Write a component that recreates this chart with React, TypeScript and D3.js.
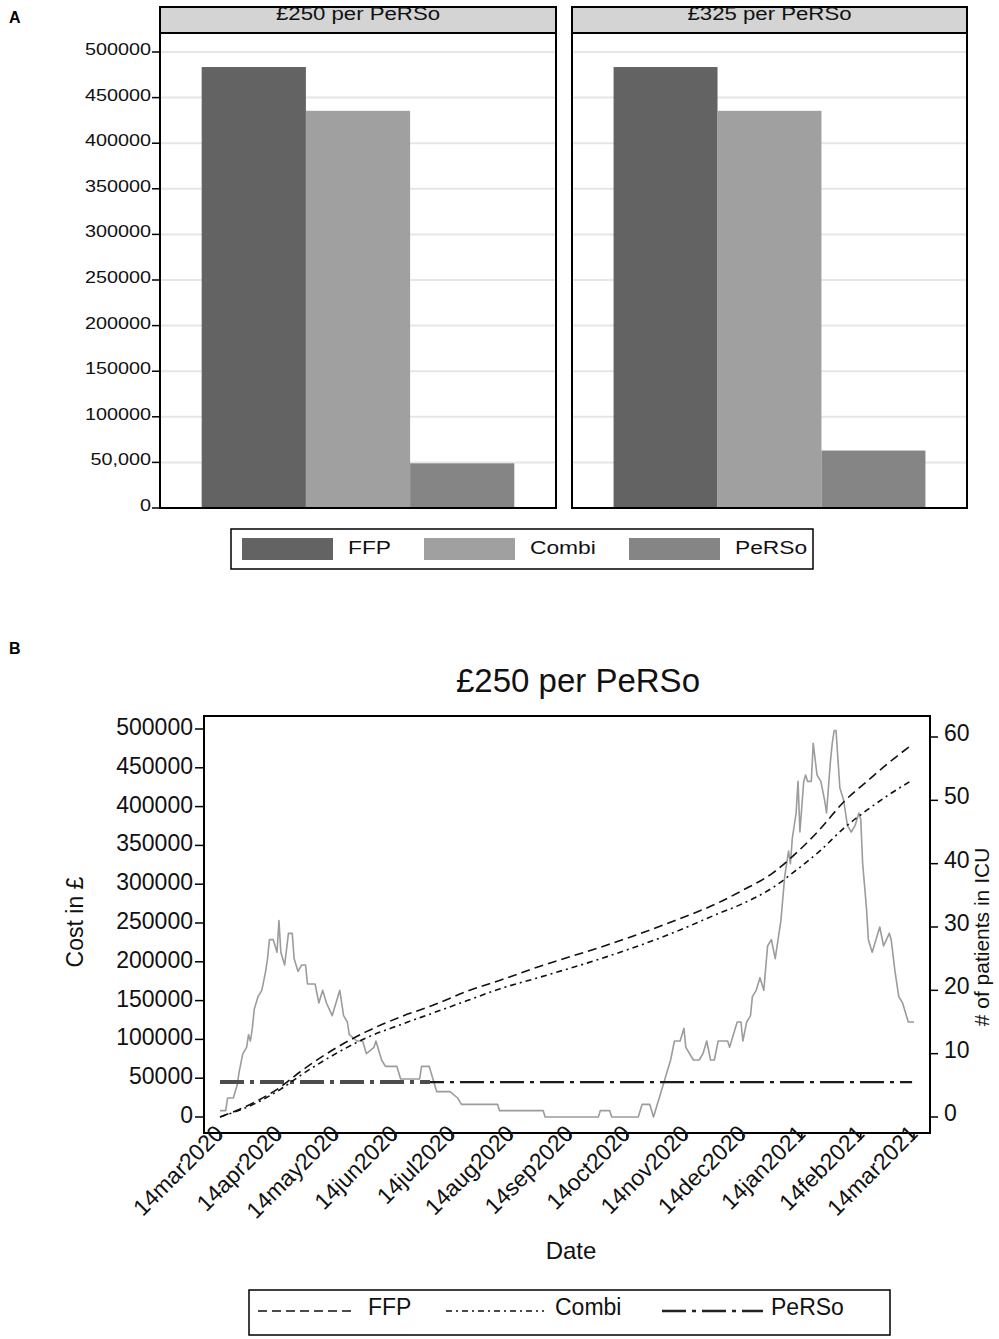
import React from 'react';
import * as d3 from 'd3';

// ---------- Panel A: total cost per method ----------
const methods = ['FFP', 'Combi', 'PeRSo'];
const methodFills = ['#636363', '#a0a0a0', '#858585'];
const panelTitles = ['£250 per PeRSo', '£325 per PeRSo'];
const totalCost250 = [483500, 435500, 49000];
const totalCost325 = [483500, 435500, 63000];
const costTicks = [0, 50000, 100000, 150000, 200000, 250000, 300000, 350000, 400000, 450000, 500000];
const barTickLabels = ['0', '50,000', '100000', '150000', '200000', '250000', '300000', '350000', '400000', '450000', '500000'];

// ---------- Panel B: cumulative cost over time + ICU patients ----------
const lineTitle = '£250 per PeRSo';
const dateTickLabels = [
  '14mar2020', '14apr2020', '14may2020', '14jun2020', '14jul2020', '14aug2020', '14sep2020',
  '14oct2020', '14nov2020', '14dec2020', '14jan2021', '14feb2021', '14mar2021',
];
const icuTicks = [0, 10, 20, 30, 40, 50, 60];
// days since 14mar2020
const costDays = [0, 19, 32, 42, 59, 77, 95, 112, 130, 147, 168, 204, 238, 262, 274, 291, 303, 316, 328, 340, 351, 364];
const ffpCost = [0, 20000, 39000, 58000, 86000, 110000, 129000, 144000, 162000, 176000, 194000, 222000, 252000, 276000, 291000, 315000, 340000, 372000, 406000, 432000, 455000, 480000];
const combiCost = [0, 18000, 36000, 53000, 79000, 102000, 119000, 134000, 150000, 165000, 180000, 207000, 237000, 262000, 274000, 296000, 318000, 344000, 372000, 395000, 414000, 434000];
const persoDays = [0, 364];
const persoCost = [45000, 45000];
const icuDays = [
  0, 3, 4, 7, 9, 10, 12, 14, 15, 16,
  17, 18, 20, 22, 24, 25, 26, 28, 29, 30,
  31, 32, 34, 36, 38, 39, 41, 43, 45, 46,
  50, 52, 54, 56, 59, 60, 63, 65, 67, 68,
  72, 75, 77, 81, 82, 85, 87, 93, 95, 105,
  106, 110, 112, 114, 121, 125, 127, 146, 147, 170,
  171, 199, 200, 205, 206, 220, 222, 224, 226, 228,
  230, 231, 234, 237, 239, 242, 244, 245, 249, 252,
  254, 256, 258, 260, 262, 267, 268, 270, 272, 274,
  275, 277, 279, 280, 282, 284, 286, 288, 290, 292,
  295, 297, 299, 300, 301, 303, 304, 305, 307, 308,
  309, 311, 312, 314, 316, 318, 319, 321, 322, 323,
  324, 326, 328, 329, 330, 332, 334, 336, 337, 338,
  340, 341, 343, 345, 347, 349, 352, 353, 355, 357,
  359, 362, 365,
];
const icuPatients = [
  1, 1, 3, 3, 5, 7, 10, 11, 13, 12,
  14, 17, 19, 20, 23, 25, 28, 28, 27, 26,
  31, 26, 24, 29, 29, 25, 23, 24, 24, 21,
  21, 18, 20, 18, 16, 17, 20, 16, 15, 13,
  12, 12, 10, 11, 12, 9, 8, 8, 6, 6,
  8, 8, 6, 4, 4, 3, 2, 2, 1, 1,
  0, 0, 1, 1, 0, 0, 2, 2, 2, 0,
  2, 3, 6, 9, 12, 12, 14, 11, 9, 9,
  10, 12, 9, 9, 12, 12, 11, 13, 15, 15,
  12, 15, 16, 19, 20, 22, 20, 27, 28, 25,
  31, 38, 42, 40, 44, 48, 53, 45, 53, 54,
  53, 53, 59, 54, 53, 50, 48, 56, 59, 61,
  61, 52, 50, 48, 46, 45, 46, 48, 47, 40,
  33, 28, 26, 28, 30, 27, 29, 28, 23, 19,
  18, 15, 15,
];

const FONT = "'Liberation Sans', Arial, Helvetica, sans-serif";

// panel A text in the reference is drawn wider than normal
function WideText({ x, y, size, anchor = 'start', children }: any) {
  return (
    <g transform={`translate(${x},${y}) scale(1.2,1)`}>
      <text fontSize={size} textAnchor={anchor} fontFamily={FONT} fill="#111">{children}</text>
    </g>
  );
}

function BarPanel({ x0, x1, title, values, showAxis }: any) {
  const yA = d3.scaleLinear().domain([0, 500000]).range([508, 52]);
  const xA = d3.scaleBand().domain(methods).range([x0, x1]).paddingInner(0).paddingOuter(0.4);
  const top = 33;
  return (
    <g>
      <rect x={x0} y={7} width={x1 - x0} height={top - 7} fill="#d4d4d4" stroke="#000" strokeWidth={2} />
      <WideText x={(x0 + x1) / 2} y={20} size={18.5} anchor="middle">{title}</WideText>
      <rect x={x0} y={top} width={x1 - x0} height={508 - top} fill="#fff" />
      {costTicks.slice(1).map(t => (
        <line key={t} x1={x0} x2={x1} y1={yA(t)} y2={yA(t)} stroke="#e6e6e6" strokeWidth={2} />
      ))}
      {methods.map((m, i) => (
        <rect key={m} x={xA(m)} y={yA(values[i])} width={xA.bandwidth()} height={yA(0) - yA(values[i])}
          fill={methodFills[i]} />
      ))}
      <rect x={x0} y={top} width={x1 - x0} height={508 - top} fill="none" stroke="#000" strokeWidth={2} />
      {showAxis && costTicks.map((t, i) => (
        <g key={t}>
          <line x1={x0 - 8} x2={x0} y1={yA(t)} y2={yA(t)} stroke="#000" strokeWidth={1.5} />
          <WideText x={x0 - 9} y={yA(t) + 3} size={16.5} anchor="end">{barTickLabels[i]}</WideText>
        </g>
      ))}
    </g>
  );
}

function PanelA() {
  const swatchX = [242, 424, 629];
  return (
    <g>
      <text x={9} y={23} fontSize={16} fontWeight="bold" fontFamily={FONT}>A</text>
      <BarPanel x0={160} x1={556} title={panelTitles[0]} values={totalCost250} showAxis />
      <BarPanel x0={572} x1={967} title={panelTitles[1]} values={totalCost325} showAxis={false} />
      <rect x={231} y={529} width={582} height={40} fill="#fff" stroke="#000" strokeWidth={1.5} />
      {methods.map((m, i) => (
        <g key={m}>
          <rect x={swatchX[i]} y={538} width={91} height={22} fill={methodFills[i]} />
          <WideText x={swatchX[i] + 106} y={554} size={19}>{m}</WideText>
        </g>
      ))}
    </g>
  );
}

function PanelB() {
  const parseDay = d3.timeParse('%d%b%Y');
  const t0 = parseDay(dateTickLabels[0]) as Date;
  const t1 = parseDay(dateTickLabels[dateTickLabels.length - 1]) as Date;
  const day = (d: number) => d3.timeDay.offset(t0, d);

  const left = 204, right = 930, top = 716, bottom = 1133;
  const xB = d3.scaleTime().domain([t0, t1]).range([220, 914]);
  const yCost = d3.scaleLinear().domain([0, 500000]).range([1117, 729]);
  const yIcu = d3.scaleLinear().domain([0, 60]).range([1117, 737]);

  const costLine = d3.line<number>()
    .x((_, i) => xB(day(costDays[i])))
    .curve(d3.curveMonotoneX);
  const ffpPath = costLine.y(v => yCost(v))(ffpCost) as string;
  const combiPath = costLine.y(v => yCost(v))(combiCost) as string;
  const persoPath = d3.line<number>()
    .x((_, i) => xB(day(persoDays[i])))
    .y(v => yCost(v))(persoCost) as string;
  const icuPath = d3.line<number>()
    .x((_, i) => xB(day(icuDays[i])))
    .y(v => yIcu(v))(icuPatients) as string;

  const ffpDash = '9,5';
  const combiDash = '6,4,2,4';
  const persoDash = '24,6,4,6';

  return (
    <g fontFamily={FONT}>
      <defs>
        <clipPath id="persoLeft"><rect x={left} y={top} width={430 - left} height={bottom - top} /></clipPath>
        <clipPath id="persoRight"><rect x={430} y={top} width={right - 430} height={bottom - top} /></clipPath>
      </defs>
      <text x={9} y={654} fontSize={16} fontWeight="bold">B</text>
      <text x={578} y={692} fontSize={33} textAnchor="middle" fill="#111">{lineTitle}</text>

      <rect x={left} y={top} width={right - left} height={bottom - top} fill="#fff" />
      <path d={icuPath} fill="none" stroke="#9c9c9c" strokeWidth={1.6} strokeLinejoin="round" />
      <path d={persoPath} fill="none" stroke="#4d4d4d" strokeWidth={4} strokeDasharray={persoDash} clipPath="url(#persoLeft)" />
      <path d={persoPath} fill="none" stroke="#1a1a1a" strokeWidth={2.2} strokeDasharray={persoDash} clipPath="url(#persoRight)" />
      <path d={combiPath} fill="none" stroke="#111" strokeWidth={1.6} strokeDasharray={combiDash} />
      <path d={ffpPath} fill="none" stroke="#111" strokeWidth={1.6} strokeDasharray={ffpDash} />
      <rect x={left} y={top} width={right - left} height={bottom - top} fill="none" stroke="#000" strokeWidth={2} />

      {/* left axis */}
      {costTicks.map(t => (
        <g key={t}>
          <line x1={left - 9} x2={left} y1={yCost(t)} y2={yCost(t)} stroke="#000" strokeWidth={1.5} />
          <text x={left - 11} y={yCost(t) + 6} fontSize={23} textAnchor="end" fill="#111">{t}</text>
        </g>
      ))}
      <text transform="translate(83,922) rotate(-90)" fontSize={23} textAnchor="middle" fill="#111">Cost in £</text>

      {/* right axis */}
      {icuTicks.map(t => (
        <g key={t}>
          <line x1={right} x2={right + 8} y1={yIcu(t)} y2={yIcu(t)} stroke="#000" strokeWidth={1.5} />
          <text x={right + 14} y={yIcu(t) + 4} fontSize={23} fill="#111">{t}</text>
        </g>
      ))}
      <text transform="translate(989,937) rotate(-90)" fontSize={21} textAnchor="middle" fill="#111"># of patients in ICU</text>

      {/* date axis */}
      {dateTickLabels.map(lbl => {
        const x = xB(parseDay(lbl) as Date);
        return (
          <g key={lbl}>
            <line x1={x} x2={x} y1={bottom} y2={bottom + 7} stroke="#000" strokeWidth={1.5} />
            <text transform={`translate(${x + 5},${bottom + 2}) rotate(-45)`} fontSize={23} textAnchor="end" fill="#111">{lbl}</text>
          </g>
        );
      })}
      <text x={571} y={1259} fontSize={24} textAnchor="middle" fill="#111">Date</text>

      {/* legend */}
      <rect x={249} y={1290} width={641} height={45} fill="#fff" stroke="#000" strokeWidth={1.5} />
      <line x1={258} x2={354} y1={1311} y2={1311} stroke="#111" strokeWidth={1.6} strokeDasharray={ffpDash} />
      <text x={368} y={1315} fontSize={23} fill="#111">{methods[0]}</text>
      <line x1={446} x2={544} y1={1311} y2={1311} stroke="#111" strokeWidth={1.6} strokeDasharray={combiDash} />
      <text x={555} y={1315} fontSize={23} fill="#111">{methods[1]}</text>
      <line x1={662} x2={763} y1={1311} y2={1311} stroke="#222" strokeWidth={2.4} strokeDasharray={persoDash} />
      <text x={771} y={1315} fontSize={23} fill="#111">{methods[2]}</text>
    </g>
  );
}

export default function App() {
  return (
    <div style={{ position: 'absolute', left: 0, top: 0, background: '#fff' }}>
      <svg width={999} height={1339} viewBox="0 0 999 1339" style={{ display: 'block' }}>
        <rect width={999} height={1339} fill="#fff" />
        <PanelA />
        <PanelB />
      </svg>
    </div>
  );
}
